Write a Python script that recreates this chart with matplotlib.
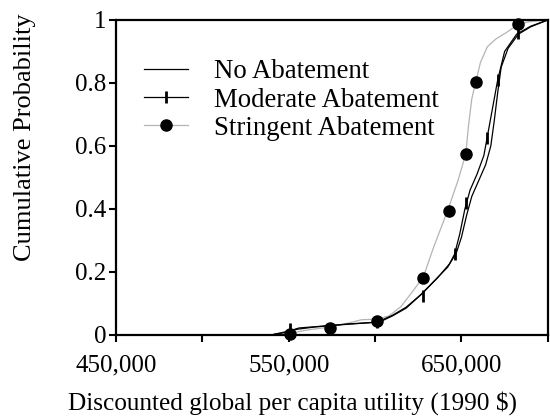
import matplotlib
matplotlib.use('Agg')
import matplotlib.pyplot as plt
from matplotlib.lines import Line2D
from matplotlib.ticker import FuncFormatter

plt.rcParams['font.family'] = ['Liberation Serif', 'DejaVu Serif']

# cumulative distributions of discounted utility
no_x = [540000, 548000, 555000, 565000, 580000, 595000, 603000, 610000, 618000,
        626000, 634000, 642000, 647000, 650000, 653000, 656000, 660000, 664000,
        667000, 669000, 671000, 673000, 677000, 683000, 690000, 700000]
no_y = [0, 0.008, 0.018, 0.025, 0.032, 0.038, 0.042, 0.06, 0.085,
        0.125, 0.17, 0.215, 0.26, 0.31, 0.38, 0.44, 0.49, 0.54,
        0.60, 0.68, 0.77, 0.85, 0.91, 0.955, 0.978, 1.0]

mod_x = [540000, 550000, 556000, 570000, 585000, 601000, 610000, 618000, 627000,
         636000, 643000, 646000, 649000, 652000, 655000, 659000, 663000, 665000,
         668000, 671000, 675000, 682000, 690000, 700000]
mod_y = [0, 0.012, 0.022, 0.028, 0.035, 0.04, 0.062, 0.088, 0.13,
         0.18, 0.225, 0.256, 0.32, 0.40, 0.46, 0.51, 0.57, 0.63,
         0.72, 0.81, 0.90, 0.955, 0.98, 1.0]
mod_mx = [551000, 601000, 628000, 646200, 652800, 664800, 671200, 682700]
mod_my = [0.02, 0.04, 0.124, 0.256, 0.42, 0.624, 0.81, 0.958]

str_x = [540000, 551000, 560000, 574000, 585000, 592000, 601000, 608000, 615000,
         622000, 628000, 634000, 642000, 648000, 652500, 654000, 656000, 658300,
         661000, 665000, 670000, 676000, 683000, 691000, 700000]
str_y = [0, 0.005, 0.015, 0.025, 0.038, 0.048, 0.05, 0.06, 0.09,
         0.14, 0.185, 0.28, 0.395, 0.49, 0.575, 0.66, 0.75, 0.804,
         0.865, 0.915, 0.94, 0.96, 0.987, 0.996, 1.0]
str_mx = [551000, 574000, 601000, 628000, 642700, 652500, 658300, 682700]
str_my = [0.003, 0.023, 0.045, 0.18, 0.394, 0.575, 0.804, 0.986]

grey = '#b4b4b4'

fig = plt.figure(figsize=(5.5, 4.16), dpi=100)
ax = fig.add_axes([0.211, 0.195, 0.785, 0.757])

ax.plot(str_x, str_y, color=grey, lw=0.9)
ax.plot(str_mx, str_my, 'o', color='black', ms=8, clip_on=False)
ax.plot(mod_x, mod_y, color='black', lw=0.9)
ax.plot(mod_mx, mod_my, '|', color='black', ms=8, mew=2, clip_on=False)
ax.plot(no_x, no_y, color='black', lw=0.9)

ax.set_xlim(450000, 700000)
ax.set_ylim(0, 1)
ax.set_xticks([450000, 500000, 550000, 600000, 650000, 700000])
ax.xaxis.set_major_formatter(FuncFormatter(
    lambda v, p: f'{int(v):,}' if v in (450000, 550000, 650000) else ''))
ax.set_yticks([0, 0.2, 0.4, 0.6, 0.8, 1.0])
ax.set_yticklabels(['0', '0.2', '0.4', '0.6', '0.8', '1'])
ax.tick_params(labelsize=18, width=1.5, length=5, direction='out')
ax.tick_params(axis='x', pad=9)
ax.tick_params(axis='y', pad=2)
for s in ax.spines.values():
    s.set_linewidth(1.6)

# axis titles placed on the figure
fig.text(293 / 550, 1 - 403 / 416, 'Discounted global per capita utility (1990 $)',
         fontsize=18.2, ha='center', va='center')
fig.text(25 / 550, 1 - 137 / 416, 'Cumulative Probability',
         fontsize=19, rotation=90, ha='center', va='center')

handles = [
    Line2D([], [], color='black', lw=0.9),
    Line2D([], [], color='black', lw=0.9, marker='|', ms=8, mew=2),
    Line2D([], [], color=grey, lw=0.9, marker='o', mfc='black', mec='black', ms=8),
]
ax.legend(handles, ['No Abatement', 'Moderate Abatement', 'Stringent Abatement'],
          loc='upper left', bbox_to_anchor=(0.065, 0.875), frameon=False,
          fontsize=19.3, handlelength=1.65, handletextpad=0.95, labelspacing=0.12,
          borderaxespad=0, borderpad=0)

fig.savefig('out.png', dpi=100)
